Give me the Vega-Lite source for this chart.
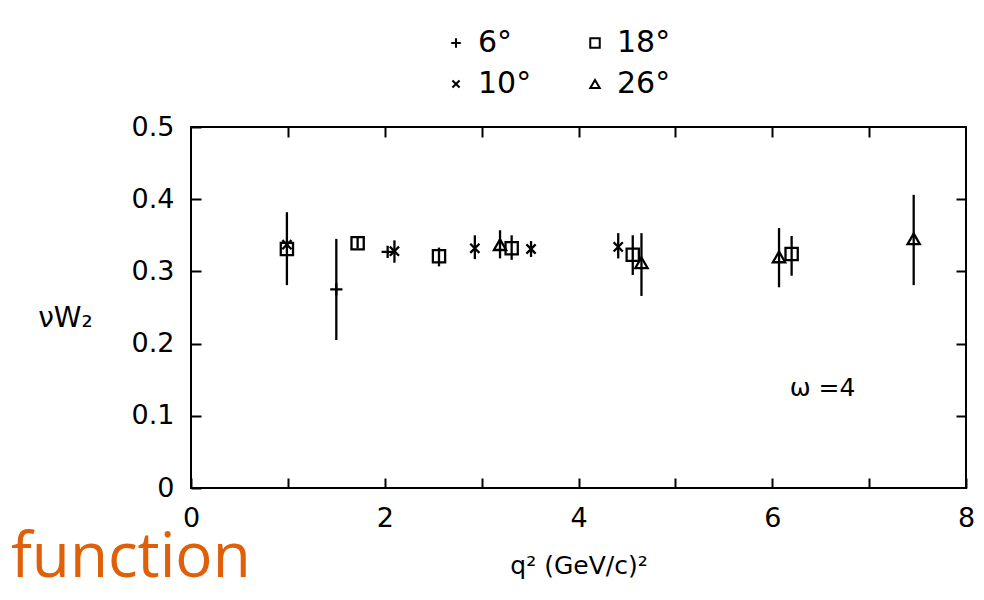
{
  "$schema": "https://vega.github.io/schema/vega-lite/v6.json",
  "width": 775,
  "height": 361,
  "autosize": "none",
  "padding": {"left": 191, "top": 127, "right": 18, "bottom": 112},
  "background": "white",
  "config": {
    "view": {"stroke": "black", "strokeWidth": 2},
    "font": "DejaVu Sans"
  },
  "title": {
    "text": "function",
    "orient": "bottom",
    "anchor": "start",
    "frame": "group",
    "font": "Open Sans",
    "fontSize": 62,
    "fontWeight": "normal",
    "color": "#E0600A",
    "dx": -180,
    "dy": -54
  },
  "data": {
    "values": [
      {"q2": 0.99, "w": 0.337, "lo": 0.281, "hi": 0.382, "s": "10°"},
      {"q2": 0.99, "w": 0.331, "lo": null, "hi": null, "s": "18°"},
      {"q2": 1.50, "w": 0.275, "lo": 0.205, "hi": 0.345, "s": "6°"},
      {"q2": 1.72, "w": 0.339, "lo": 0.332, "hi": 0.347, "s": "18°"},
      {"q2": 2.03, "w": 0.327, "lo": null, "hi": null, "s": "6°"},
      {"q2": 2.10, "w": 0.328, "lo": 0.312, "hi": 0.343, "s": "10°"},
      {"q2": 2.56, "w": 0.321, "lo": 0.307, "hi": 0.333, "s": "18°"},
      {"q2": 2.93, "w": 0.332, "lo": 0.317, "hi": 0.350, "s": "10°"},
      {"q2": 3.19, "w": 0.337, "lo": 0.318, "hi": 0.357, "s": "26°"},
      {"q2": 3.31, "w": 0.332, "lo": 0.316, "hi": 0.350, "s": "18°"},
      {"q2": 3.51, "w": 0.331, "lo": 0.320, "hi": 0.342, "s": "10°"},
      {"q2": 4.41, "w": 0.334, "lo": 0.318, "hi": 0.353, "s": "10°"},
      {"q2": 4.56, "w": 0.323, "lo": 0.295, "hi": 0.350, "s": "18°"},
      {"q2": 4.65, "w": 0.312, "lo": 0.266, "hi": 0.353, "s": "26°"},
      {"q2": 6.07, "w": 0.320, "lo": 0.278, "hi": 0.360, "s": "26°"},
      {"q2": 6.20, "w": 0.324, "lo": 0.294, "hi": 0.349, "s": "18°"},
      {"q2": 7.46, "w": 0.345, "lo": 0.281, "hi": 0.406, "s": "26°"}
    ]
  },
  "layer": [
    {
      "transform": [{"filter": "datum.lo != null"}],
      "mark": {"type": "rule", "color": "black", "strokeWidth": 2.3},
      "encoding": {
        "x": {
          "field": "q2", "type": "quantitative",
          "scale": {"domain": [0, 8], "nice": false, "zero": false},
          "axis": {
            "orient": "bottom",
            "values": [0, 1, 2, 3, 4, 5, 6, 7, 8],
            "labelExpr": "datum.value % 2 == 0 ? datum.label : ''",
            "domain": false, "grid": false,
            "tickSize": -10, "tickWidth": 2, "tickColor": "black",
            "labelFontSize": 27, "labelColor": "black", "labelPadding": 27,
            "labelFlush": false, "labelOverlap": false,
            "title": "q² (GeV/c)²",
            "titleFontSize": 25, "titleFontWeight": "normal", "titleColor": "black",
            "titlePadding": 22
          }
        },
        "y": {
          "field": "lo", "type": "quantitative",
          "scale": {"domain": [0, 0.5], "nice": false, "zero": false},
          "axis": {
            "orient": "left",
            "values": [0, 0.1, 0.2, 0.3, 0.4, 0.5],
            "labelExpr": "datum.value == 0 ? '0' : format(datum.value, '.1f')",
            "domain": false, "grid": false,
            "tickSize": -10, "tickWidth": 2, "tickColor": "black",
            "labelFontSize": 27, "labelColor": "black", "labelPadding": 27,
            "labelFlush": false, "labelOverlap": false,
            "title": "νW₂",
            "titleAngle": 0, "titleAlign": "center", "titleBaseline": "middle",
            "titleX": -126, "titleY": 191,
            "titleFontSize": 28, "titleFontWeight": "normal", "titleColor": "black"
          }
        },
        "y2": {"field": "hi"}
      }
    },
    {
      "mark": {"type": "point", "filled": false, "color": "black", "strokeWidth": 2.3, "size": 150, "opacity": 1},
      "encoding": {
        "x": {"field": "q2", "type": "quantitative", "axis": null},
        "y": {"field": "w", "type": "quantitative", "axis": null},
        "shape": {
          "field": "s", "type": "nominal",
          "scale": {
            "domain": ["6°", "10°", "18°", "26°"],
            "range": ["M-1,0L1,0M0,-1L0,1", "M-0.75,-0.75L0.75,0.75M-0.75,0.75L0.75,-0.75", "square", "triangle-up"]
          },
          "legend": {
            "orient": "none", "legendX": 250, "legendY": -99,
            "columns": 2, "columnPadding": 48, "rowPadding": 11,
            "title": null,
            "labelFontSize": 30, "labelColor": "black", "labelOffset": 7,
            "symbolSize": 90, "symbolStrokeWidth": 2, "symbolStrokeColor": "black",
            "gridAlign": "all"
          }
        }
      }
    },
    {
      "data": {"values": [{"q2": 6.18, "w": 0.138, "label": "ω =4"}]},
      "mark": {"type": "text", "align": "left", "baseline": "middle", "fontSize": 25, "color": "black"},
      "encoding": {
        "x": {"field": "q2", "type": "quantitative", "axis": null},
        "y": {"field": "w", "type": "quantitative", "axis": null},
        "text": {"field": "label"}
      }
    },
    {
      "mark": {"type": "point", "opacity": 0},
      "encoding": {
        "x": {
          "field": "q2", "type": "quantitative",
          "axis": {
            "orient": "top", "values": [1, 2, 3, 4, 5, 6, 7],
            "labels": false, "domain": false, "grid": false, "title": null,
            "tickSize": -10, "tickWidth": 2, "tickColor": "black"
          }
        },
        "y": {
          "field": "w", "type": "quantitative",
          "axis": {
            "orient": "right", "values": [0.1, 0.2, 0.3, 0.4],
            "labels": false, "domain": false, "grid": false, "title": null,
            "tickSize": -10, "tickWidth": 2, "tickColor": "black"
          }
        }
      }
    }
  ],
  "resolve": {"axis": {"x": "independent", "y": "independent"}}
}
